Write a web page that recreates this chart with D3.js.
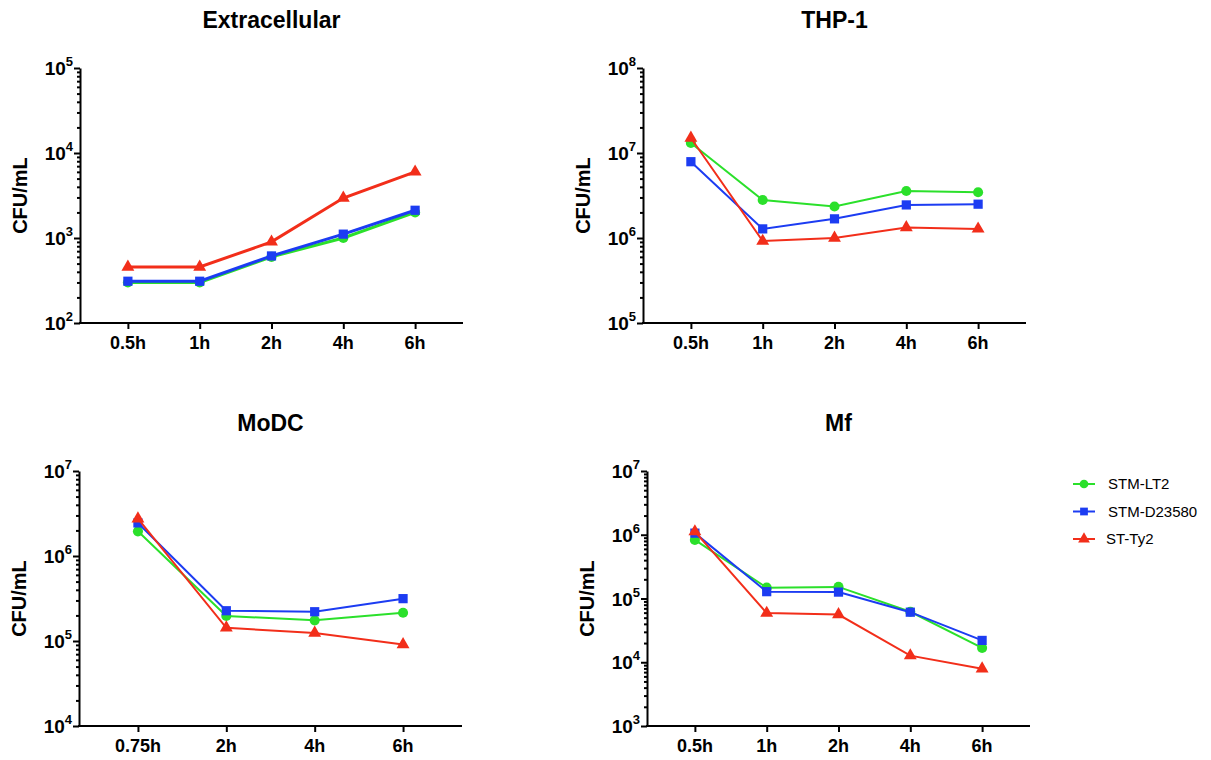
<!DOCTYPE html>
<html>
<head>
  <meta charset="utf-8">
  <script src="https://d3js.org/d3.v7.min.js"></script>
  <style>
    body { margin: 0; background: #fff; }
    text { font-family: "Liberation Sans", Arial, sans-serif; }
    .title { font-size: 23px; font-weight: bold; text-anchor: middle; }
    .ylab { font-size: 20px; font-weight: bold; text-anchor: middle; }
    .xtick { font-size: 18px; font-weight: bold; text-anchor: middle; }
    .ytick { font-size: 19px; font-weight: bold; text-anchor: end; }
    .legend-text { font-size: 15px; }
    .axis path, .axis line { stroke: #000; stroke-width: 2px; }
  </style>
</head>
<body>
  <svg width="1211" height="760"></svg>
  <script>
    // series names + colours
    var seriesNames = ["STM-LT2", "STM-D23580", "ST-Ty2"];
    var seriesColors = ["#2be02b", "#1c3cf2", "#f22e1a"];
    var seriesShapes = [d3.symbolCircle, d3.symbolSquare, d3.symbolTriangle];
    var markerSizes = [80, 85, 72];

    // Extracellular
    var extraTimes = ["0.5h", "1h", "2h", "4h", "6h"];
    var extraLT2 = [300, 300, 600, 1000, 2000];
    var extraD23580 = [310, 310, 615, 1110, 2120];
    var extraTy2 = [456, 456, 900, 2950, 6000];

    // THP-1
    var thpTimes = ["0.5h", "1h", "2h", "4h", "6h"];
    var thpLT2 = [1.31e7, 2.8e6, 2.35e6, 3.57e6, 3.45e6];
    var thpD23580 = [7.9e6, 1.28e6, 1.68e6, 2.45e6, 2.5e6];
    var thpTy2 = [1.5e7, 9.2e5, 1.0e6, 1.33e6, 1.28e6];

    // MoDC
    var modcTimes = ["0.75h", "2h", "4h", "6h"];
    var modcLT2 = [1.95e6, 1.97e5, 1.75e5, 2.15e5];
    var modcD23580 = [2.45e6, 2.27e5, 2.21e5, 3.15e5];
    var modcTy2 = [2.75e6, 1.43e5, 1.24e5, 9.1e4];

    // Mf
    var mfTimes = ["0.5h", "1h", "2h", "4h", "6h"];
    var mfLT2 = [8.3e5, 1.48e5, 1.52e5, 6.2e4, 1.68e4];
    var mfD23580 = [1.06e6, 1.28e5, 1.26e5, 6.1e4, 2.2e4];
    var mfTy2 = [1.12e6, 5.9e4, 5.6e4, 1.27e4, 7.9e3];

    var panels = [
      {title: "Extracellular", times: extraTimes, series: [extraLT2, extraD23580, extraTy2],
       yMin: 2, yMax: 5, left: 80, right: 463, top: 68, bottom: 323, lw: 3},
      {title: "THP-1", times: thpTimes, series: [thpLT2, thpD23580, thpTy2],
       yMin: 5, yMax: 8, left: 643, right: 1026, top: 68, bottom: 323, lw: 2},
      {title: "MoDC", times: modcTimes, series: [modcLT2, modcD23580, modcTy2],
       yMin: 4, yMax: 7, left: 79, right: 462, top: 471, bottom: 726, lw: 2},
      {title: "Mf", times: mfTimes, series: [mfLT2, mfD23580, mfTy2],
       yMin: 3, yMax: 7, left: 647, right: 1030, top: 471, bottom: 726, lw: 2}
    ];

    var svg = d3.select("svg");

    function drawPanel(p) {
      var g = svg.append("g");

      var x = d3.scalePoint().domain(p.times).range([p.left, p.right]).padding(0.667);
      var y = d3.scaleLog().domain([Math.pow(10, p.yMin), Math.pow(10, p.yMax)]).range([p.bottom, p.top]);

      var majors = d3.range(p.yMin, p.yMax + 1).map(e => Math.pow(10, e));
      var minors = [];
      for (var e = p.yMin; e < p.yMax; e++) {
        for (var m = 2; m <= 9; m++) minors.push(m * Math.pow(10, e));
      }

      // minor ticks
      g.append("g")
        .attr("class", "axis")
        .attr("transform", "translate(" + p.left + ",0)")
        .call(d3.axisLeft(y).tickValues(minors).tickSize(3).tickFormat(""))
        .call(s => s.select(".domain").remove());

      // major ticks + line
      g.append("g")
        .attr("class", "axis")
        .attr("transform", "translate(" + p.left + ",0)")
        .call(d3.axisLeft(y).tickValues(majors).tickSizeInner(6).tickSizeOuter(0).tickFormat(""));

      majors.forEach(function(v) {
        var t = g.append("text")
          .attr("class", "ytick")
          .attr("x", p.left - 7)
          .attr("y", y(v) + 7);
        t.append("tspan").text("10");
        t.append("tspan").attr("dy", -9).style("font-size", "13px").text(Math.round(Math.log10(v)));
      });

      // x axis
      g.append("g")
        .attr("class", "axis")
        .attr("transform", "translate(0," + p.bottom + ")")
        .call(d3.axisBottom(x).tickSizeInner(6).tickSizeOuter(0).tickFormat(""))
        .call(s => s.select(".domain").attr("d", "M" + (p.left - 1) + ",0H" + p.right));

      p.times.forEach(function(t) {
        g.append("text")
          .attr("class", "xtick")
          .attr("x", x(t))
          .attr("y", p.bottom + 26)
          .text(t);
      });

      // title + y label
      g.append("text")
        .attr("class", "title")
        .attr("x", (p.left + p.right) / 2)
        .attr("y", p.top - 40)
        .text(p.title);

      g.append("text")
        .attr("class", "ylab")
        .attr("transform", "translate(" + (p.left - 53) + "," + ((p.top + p.bottom) / 2) + ") rotate(-90)")
        .text("CFU/mL");

      var line = d3.line().x((d, i) => x(p.times[i])).y(d => y(d));

      // green, blue, red -> red ends on top
      p.series.forEach(function(vals, si) {
        g.append("path")
          .attr("d", line(vals))
          .attr("fill", "none")
          .attr("stroke", seriesColors[si])
          .attr("stroke-width", p.lw);
        g.selectAll(".pt" + si)
          .data(vals)
          .enter().append("path")
          .attr("transform", (d, i) => "translate(" + x(p.times[i]) + "," + y(d) + ")")
          .attr("d", d3.symbol().type(seriesShapes[si]).size(markerSizes[si]))
          .attr("fill", seriesColors[si]);
      });
    }

    panels.forEach(drawPanel);

    // legend
    var legend = svg.append("g");
    seriesNames.forEach(function(name, i) {
      var ly = 484 + i * 27.5;
      legend.append("line")
        .attr("x1", 1073).attr("x2", 1095)
        .attr("y1", ly).attr("y2", ly)
        .attr("stroke", seriesColors[i]).attr("stroke-width", 2);
      legend.append("path")
        .attr("transform", "translate(1084," + ly + ")")
        .attr("d", d3.symbol().type(seriesShapes[i]).size(60))
        .attr("fill", seriesColors[i]);
      legend.append("text")
        .attr("class", "legend-text")
        .attr("x", i === 2 ? 1106 : 1108)
        .attr("y", ly + 5)
        .text(name);
    });
  </script>
</body>
</html>
